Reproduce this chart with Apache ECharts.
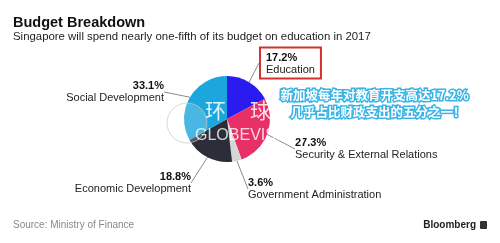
<!DOCTYPE html>
<html><head><meta charset="utf-8">
<script src="https://cdn.jsdelivr.net/npm/echarts@6/dist/echarts.min.js"></script>
<style>html,body{margin:0;padding:0;background:#fff}#c{width:500px;height:243px}</style>
</head><body><div id="c"></div>
<script>
const categories = ['Education', 'Security & External Relations', 'Government Administration', 'Economic Development', 'Social Development'];
const shares = [17.2, 27.3, 3.6, 18.8, 33.1];
const colors = ['#2a1cf0', '#e82f66', '#d6d6d6', '#2b2e38', '#1ba6de'];
const titleText = 'Budget Breakdown';
const subtitleText = 'Singapore will spend nearly one-fifth of its budget on education in 2017';
const sourceText = 'Source: Ministry of Finance';
const noteLines = ['新加坡每年对教育开支高达17.2%', '几乎占比财政支出的五分之一！'];

// label anchor positions (style/layout)
const labelPos = [
  {x: 260, y: 63, align: 'left'},
  {x: 295, y: 149, align: 'left'},
  {x: 248, y: 189, align: 'left'},
  {x: 191, y: 183, align: 'right'},
  {x: 164, y: 92, align: 'right'}
];

const FONT = '"Liberation Sans", Arial, Helvetica, sans-serif';
const chart = echarts.init(document.getElementById('c'), null, {renderer: 'canvas'});

const data = categories.map((name, i) => {
  const d = {name, value: shares[i], itemStyle: {color: colors[i]}};
  if (i === 0) {
    d.label = {borderColor: '#d8312c', borderWidth: 2, padding: [4, 6, 3, 6]};
  }
  return d;
});

chart.setOption({
  animation: false,
  title: [
    {text: titleText, left: 13, top: 15, padding: 0, textStyle: {fontFamily: FONT, fontSize: 14.5, fontWeight: 'bold', color: '#111'}},
    {text: subtitleText, left: 13, top: 31, padding: 0, textStyle: {fontFamily: FONT, fontSize: 11.4, fontWeight: 'normal', color: '#222'}},
    {text: sourceText, left: 13, top: 220, padding: 0, textStyle: {fontFamily: FONT, fontSize: 10, fontWeight: 'normal', color: '#8a8a8a'}},
    {text: 'Bloomberg', right: 24, top: 220, padding: 0, textStyle: {fontFamily: FONT, fontSize: 10, fontWeight: 'bold', color: '#222'}}
  ],
  series: [{
    type: 'pie',
    center: [227, 119],
    radius: [0, 43],
    startAngle: 90,
    clockwise: true,
    data,
    label: {
      show: true,
      fontFamily: FONT,
      formatter: p => '{p|' + p.value.toFixed(1) + '%}\n{n|' + p.name + '}',
      rich: {
        p: {fontFamily: FONT, fontSize: 11, fontWeight: 'bold', color: '#111', lineHeight: 12},
        n: {fontFamily: FONT, fontSize: 11, color: '#222', lineHeight: 12}
      }
    },
    labelLine: {show: true, length2: 0, lineStyle: {color: '#8c8c8c', width: 1}},
    labelLayout: p => {
      const lp = labelPos[p.dataIndex];
      return {x: lp.x, y: lp.y, align: lp.align, verticalAlign: 'middle'};
    }
  }],
  graphic: [
    {type: 'circle', shape: {cx: 187, cy: 123, r: 20}, z: 99, style: {fill: 'rgba(255,255,255,0.2)', stroke: 'rgba(200,200,200,0.7)', lineWidth: 1}},
    {type: 'text', left: 205, top: 100, z: 100, style: {text: '环', fill: 'rgba(255,255,255,0.85)', font: '21px "Noto Sans CJK SC"'}},
    {type: 'text', left: 250, top: 100, z: 100, style: {text: '球', fill: 'rgba(255,255,255,0.85)', font: '21px "Noto Sans CJK SC"'}},
    {type: 'text', left: 195, top: 128, z: 100, style: {text: 'GLOBEVISION', fill: 'rgba(255,255,255,0.8)', font: '16px ' + FONT}},
    {type: 'text', left: 279, top: 87, z: 100, style: {text: noteLines[0], fill: '#ffffff', stroke: '#3ab4e4', lineWidth: 3, font: 'bold 12.5px "Noto Sans CJK SC"'}},
    {type: 'text', left: 289, top: 104, z: 100, style: {text: noteLines[1], fill: '#ffffff', stroke: '#3ab4e4', lineWidth: 3, font: 'bold 12.5px "Noto Sans CJK SC"'}},
    {type: 'rect', right: 13, top: 221, shape: {width: 7, height: 8, r: 1}, style: {fill: '#333'}}
  ]
});
</script></body></html>
